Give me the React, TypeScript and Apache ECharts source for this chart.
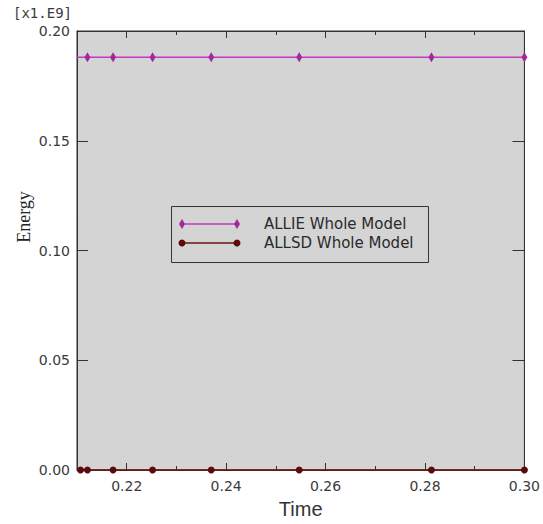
import React, { useEffect, useRef } from "react";
import * as echarts from "echarts";

const timeValues = [0.21, 0.2121, 0.21725, 0.2252, 0.237, 0.2547, 0.2813, 0.3];
const allieValues = [0.188, 0.188, 0.188, 0.188, 0.188, 0.188, 0.188, 0.188];
const allsdValues = [0.0, 0.0, 0.0, 0.0, 0.0, 0.0, 0.0, 0.0];
const seriesNames = ["ALLIE Whole Model", "ALLSD Whole Model"];
const xMajorTicks = [0.22, 0.24, 0.26, 0.28, 0.3];
const xMinorTicks = [0.23, 0.25, 0.27, 0.29];
const scaleLabel = "[x1.E9]";
const yAxisTitle = "Energy";
const xAxisTitle = "Time";

const ALLIE_LINE = "#c23bbd";
const ALLIE_MARK = "#a02a98";
const ALLSD_LINE = "#6e1212";
const ALLSD_MARK = "#5c0b0b";

export default function App() {
  const ref = useRef<HTMLDivElement>(null);
  useEffect(() => {
    document.body.style.margin = "0";
    const chart = echarts.init(ref.current!, null, { renderer: "svg" });
    const tickFont = { fontFamily: "DejaVu Sans", fontSize: 14, color: "#3a3a3a" };
    const xBase = {
      type: "value" as const,
      min: 0.21,
      max: 0.3,
      gridIndex: 0,
      splitLine: { show: false },
    };
    const option = {
      animation: false,
      backgroundColor: "#ffffff",
      grid: {
        left: 77,
        right: 17,
        top: 31,
        bottom: 52,
        show: true,
        backgroundColor: "#d4d4d4",
        borderColor: "#333",
        borderWidth: 1,
      },
      xAxis: [
        {
          ...xBase,
          position: "bottom",
          name: xAxisTitle,
          nameLocation: "middle",
          nameGap: 29,
          nameTextStyle: { fontFamily: "Liberation Sans", fontSize: 20, color: "#333" },
          axisLine: { show: true, lineStyle: { color: "#333" } },
          axisTick: { show: true, inside: true, length: 7, customValues: xMajorTicks, lineStyle: { color: "#333" } },
          axisLabel: {
            show: true,
            customValues: xMajorTicks,
            margin: 9,
            formatter: (v: number) => v.toFixed(2),
            ...tickFont,
          },
        },
        {
          ...xBase,
          position: "bottom",
          axisLine: { show: false },
          axisTick: { show: true, inside: true, length: 4, customValues: xMinorTicks, lineStyle: { color: "#333" } },
          axisLabel: { show: false },
        },
        {
          ...xBase,
          position: "top",
          axisLine: { show: true, lineStyle: { color: "#333" } },
          axisTick: { show: true, inside: true, length: 7, customValues: xMajorTicks, lineStyle: { color: "#333" } },
          axisLabel: { show: false },
        },
        {
          ...xBase,
          position: "top",
          axisLine: { show: false },
          axisTick: { show: true, inside: true, length: 4, customValues: xMinorTicks, lineStyle: { color: "#333" } },
          axisLabel: { show: false },
        },
      ],
      yAxis: [
        {
          type: "value",
          min: 0,
          max: 0.2,
          interval: 0.05,
          position: "left",
          splitLine: { show: false },
          axisLine: { show: true, lineStyle: { color: "#333" } },
          axisTick: { show: true, inside: true, length: 11, lineStyle: { color: "#333" } },
          axisLabel: { show: true, margin: 7, formatter: (v: number) => v.toFixed(2), ...tickFont },
        },
        {
          type: "value",
          min: 0,
          max: 0.2,
          interval: 0.05,
          position: "right",
          splitLine: { show: false },
          axisLine: { show: true, lineStyle: { color: "#333" } },
          axisTick: { show: true, inside: true, length: 12, lineStyle: { color: "#333" } },
          axisLabel: { show: false },
        },
      ],
      series: [
        {
          name: seriesNames[0],
          type: "line",
          xAxisIndex: 0,
          yAxisIndex: 0,
          data: timeValues.map((t, i) => [t, allieValues[i]]),
          symbol: (_v: any, p: any) => (p.dataIndex === 0 ? "none" : "diamond"),
          symbolSize: [6, 10],
          showAllSymbol: true,
          lineStyle: { color: ALLIE_LINE, width: 1.5 },
          itemStyle: { color: ALLIE_MARK },
          clip: true,
        },
        {
          name: seriesNames[1],
          type: "line",
          xAxisIndex: 0,
          yAxisIndex: 0,
          data: timeValues.map((t, i) => [i === 0 ? 0.2107 : t, allsdValues[i]]),
          symbol: "circle",
          symbolSize: 7,
          showAllSymbol: true,
          lineStyle: { color: ALLSD_LINE, width: 1.5 },
          itemStyle: { color: ALLSD_MARK },
          clip: false,
        },
      ],
      graphic: [
        {
          type: "text",
          left: 13,
          top: 6,
          style: { text: scaleLabel, fontFamily: "DejaVu Sans Mono", fontSize: 14, fill: "#3a3a3a" },
        },
        {
          type: "text",
          x: 24,
          y: 217,
          rotation: Math.PI / 2,
          style: {
            text: yAxisTitle,
            fontFamily: "Liberation Serif",
            fontSize: 18,
            fill: "#222",
            align: "center",
            verticalAlign: "middle",
          },
        },
        {
          type: "rect",
          shape: { x: 171.5, y: 206.5, width: 257, height: 56 },
          style: { fill: "none", stroke: "#333", lineWidth: 1 },
        },
        {
          type: "line",
          shape: { x1: 182, y1: 224, x2: 237, y2: 224 },
          style: { stroke: ALLIE_LINE, lineWidth: 1.5 },
        },
        {
          type: "polygon",
          shape: { points: [[182, 219], [185, 224], [182, 229], [179, 224]] },
          style: { fill: ALLIE_MARK },
        },
        {
          type: "polygon",
          shape: { points: [[237, 219], [240, 224], [237, 229], [234, 224]] },
          style: { fill: ALLIE_MARK },
        },
        {
          type: "line",
          shape: { x1: 182, y1: 243, x2: 237, y2: 243 },
          style: { stroke: ALLSD_LINE, lineWidth: 1.5 },
        },
        { type: "circle", shape: { cx: 182, cy: 243, r: 3.5 }, style: { fill: ALLSD_MARK } },
        { type: "circle", shape: { cx: 237, cy: 243, r: 3.5 }, style: { fill: ALLSD_MARK } },
        {
          type: "text",
          style: {
            x: 264,
            y: 224,
            text: seriesNames[0],
            fontFamily: "DejaVu Sans",
            fontSize: 15,
            fill: "#2a2a2a",
            verticalAlign: "middle",
          },
        },
        {
          type: "text",
          style: {
            x: 264,
            y: 243,
            text: seriesNames[1],
            fontFamily: "DejaVu Sans",
            fontSize: 15,
            fill: "#2a2a2a",
            verticalAlign: "middle",
          },
        },
      ],
    };
    chart.setOption(option as any);
    return () => chart.dispose();
  }, []);
  return (
    <div
      ref={ref}
      style={{ position: "fixed", left: 0, top: 0, width: 543, height: 524 }}
    />
  );
}
